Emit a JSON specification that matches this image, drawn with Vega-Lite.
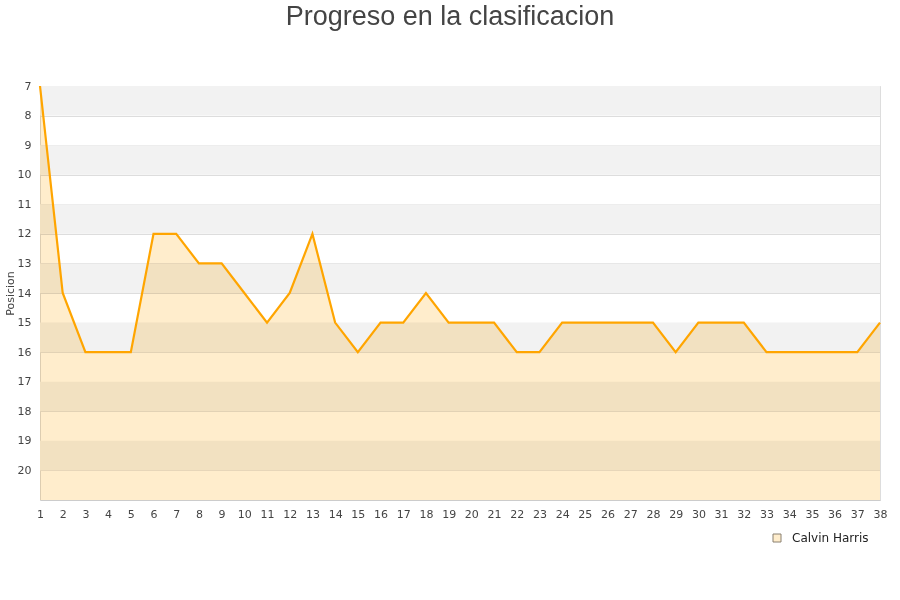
{
  "$schema": "https://vega.github.io/schema/vega-lite/v6.json",
  "width": 840,
  "height": 414,
  "autosize": {"type": "none"},
  "padding": {"left": 40, "top": 86, "right": 20, "bottom": 100},
  "background": "white",
  "config": {
    "view": {"stroke": "#dddddd", "strokeWidth": 1},
    "font": "DejaVu Sans"
  },
  "title": {
    "text": "Progreso en la clasificacion",
    "font": "Liberation Sans",
    "fontSize": 27,
    "fontWeight": "normal",
    "color": "#444444",
    "anchor": "middle",
    "dx": -10,
    "offset": 49
  },
  "datasets": {
    "bands": [
      {"b0": 7, "b1": 8}, {"b0": 9, "b1": 10}, {"b0": 11, "b1": 12},
      {"b0": 13, "b1": 14}, {"b0": 15, "b1": 16}, {"b0": 17, "b1": 18},
      {"b0": 19, "b1": 20}
    ],
    "pos": [
      {"jornada": 1, "posicion": 7, "equipo": "Calvin Harris"},
      {"jornada": 2, "posicion": 14, "equipo": "Calvin Harris"},
      {"jornada": 3, "posicion": 16, "equipo": "Calvin Harris"},
      {"jornada": 4, "posicion": 16, "equipo": "Calvin Harris"},
      {"jornada": 5, "posicion": 16, "equipo": "Calvin Harris"},
      {"jornada": 6, "posicion": 12, "equipo": "Calvin Harris"},
      {"jornada": 7, "posicion": 12, "equipo": "Calvin Harris"},
      {"jornada": 8, "posicion": 13, "equipo": "Calvin Harris"},
      {"jornada": 9, "posicion": 13, "equipo": "Calvin Harris"},
      {"jornada": 10, "posicion": 14, "equipo": "Calvin Harris"},
      {"jornada": 11, "posicion": 15, "equipo": "Calvin Harris"},
      {"jornada": 12, "posicion": 14, "equipo": "Calvin Harris"},
      {"jornada": 13, "posicion": 12, "equipo": "Calvin Harris"},
      {"jornada": 14, "posicion": 15, "equipo": "Calvin Harris"},
      {"jornada": 15, "posicion": 16, "equipo": "Calvin Harris"},
      {"jornada": 16, "posicion": 15, "equipo": "Calvin Harris"},
      {"jornada": 17, "posicion": 15, "equipo": "Calvin Harris"},
      {"jornada": 18, "posicion": 14, "equipo": "Calvin Harris"},
      {"jornada": 19, "posicion": 15, "equipo": "Calvin Harris"},
      {"jornada": 20, "posicion": 15, "equipo": "Calvin Harris"},
      {"jornada": 21, "posicion": 15, "equipo": "Calvin Harris"},
      {"jornada": 22, "posicion": 16, "equipo": "Calvin Harris"},
      {"jornada": 23, "posicion": 16, "equipo": "Calvin Harris"},
      {"jornada": 24, "posicion": 15, "equipo": "Calvin Harris"},
      {"jornada": 25, "posicion": 15, "equipo": "Calvin Harris"},
      {"jornada": 26, "posicion": 15, "equipo": "Calvin Harris"},
      {"jornada": 27, "posicion": 15, "equipo": "Calvin Harris"},
      {"jornada": 28, "posicion": 15, "equipo": "Calvin Harris"},
      {"jornada": 29, "posicion": 16, "equipo": "Calvin Harris"},
      {"jornada": 30, "posicion": 15, "equipo": "Calvin Harris"},
      {"jornada": 31, "posicion": 15, "equipo": "Calvin Harris"},
      {"jornada": 32, "posicion": 15, "equipo": "Calvin Harris"},
      {"jornada": 33, "posicion": 16, "equipo": "Calvin Harris"},
      {"jornada": 34, "posicion": 16, "equipo": "Calvin Harris"},
      {"jornada": 35, "posicion": 16, "equipo": "Calvin Harris"},
      {"jornada": 36, "posicion": 16, "equipo": "Calvin Harris"},
      {"jornada": 37, "posicion": 16, "equipo": "Calvin Harris"},
      {"jornada": 38, "posicion": 15, "equipo": "Calvin Harris"}
    ]
  },
  "layer": [
    {
      "data": {"name": "bands"},
      "mark": {"type": "rect", "color": "#f2f2f2"},
      "encoding": {
        "y": {"field": "b0", "type": "quantitative", "scale": {"domain": [7, 21], "reverse": true, "nice": false, "zero": false},
          "axis": {"title": "Posicion", "values": [7,8,9,10,11,12,13,14,15,16,17,18,19,20], "tickCount": 100, "format": "d", "ticks": false, "domain": false,
            "labelOverlap": false,
            "grid": true, "gridColor": "#dddddd", "labelColor": "#444444", "labelFontSize": 11, "labelPadding": 9,
            "titleFontSize": 11, "titleFontWeight": "normal", "titleColor": "#444444", "titlePadding": 2}},
        "y2": {"field": "b1"}
      }
    },
    {
      "data": {"name": "pos"},
      "mark": {"type": "area", "opacity": 1, "fillOpacity": 1, "blend": "multiply"},
      "encoding": {
        "x": {"field": "jornada", "type": "quantitative", "scale": {"domain": [1, 38], "nice": false, "zero": false},
          "axis": {"title": null, "values": [1,2,3,4,5,6,7,8,9,10,11,12,13,14,15,16,17,18,19,20,21,22,23,24,25,26,27,28,29,30,31,32,33,34,35,36,37,38],
            "tickCount": 100, "format": "d", "labelOverlap": false,
            "ticks": false, "grid": false, "domainColor": "#cccccc", "labelColor": "#444444", "labelFontSize": 11, "labelPadding": 8, "labelFlush": false}},
        "y": {"field": "posicion", "type": "quantitative"},
        "y2": {"datum": 21},
        "fill": {"field": "equipo", "type": "nominal",
          "scale": {"range": ["#ffedcc"]},
          "legend": {"title": null, "orient": "none", "legendX": 731, "legendY": 446, "symbolType": "square",
            "symbolSize": 64, "symbolOffset": 0, "symbolOpacity": 1,
            "symbolStrokeColor": "#8a8070", "symbolStrokeWidth": 1,
            "labelOffset": 9, "labelFontSize": 12, "labelColor": "#222222"}}
      }
    },
    {
      "data": {"name": "pos"},
      "mark": {"type": "line", "color": "#ffa500", "strokeWidth": 2.2},
      "encoding": {
        "x": {"field": "jornada", "type": "quantitative"},
        "y": {"field": "posicion", "type": "quantitative"}
      }
    }
  ]
}
